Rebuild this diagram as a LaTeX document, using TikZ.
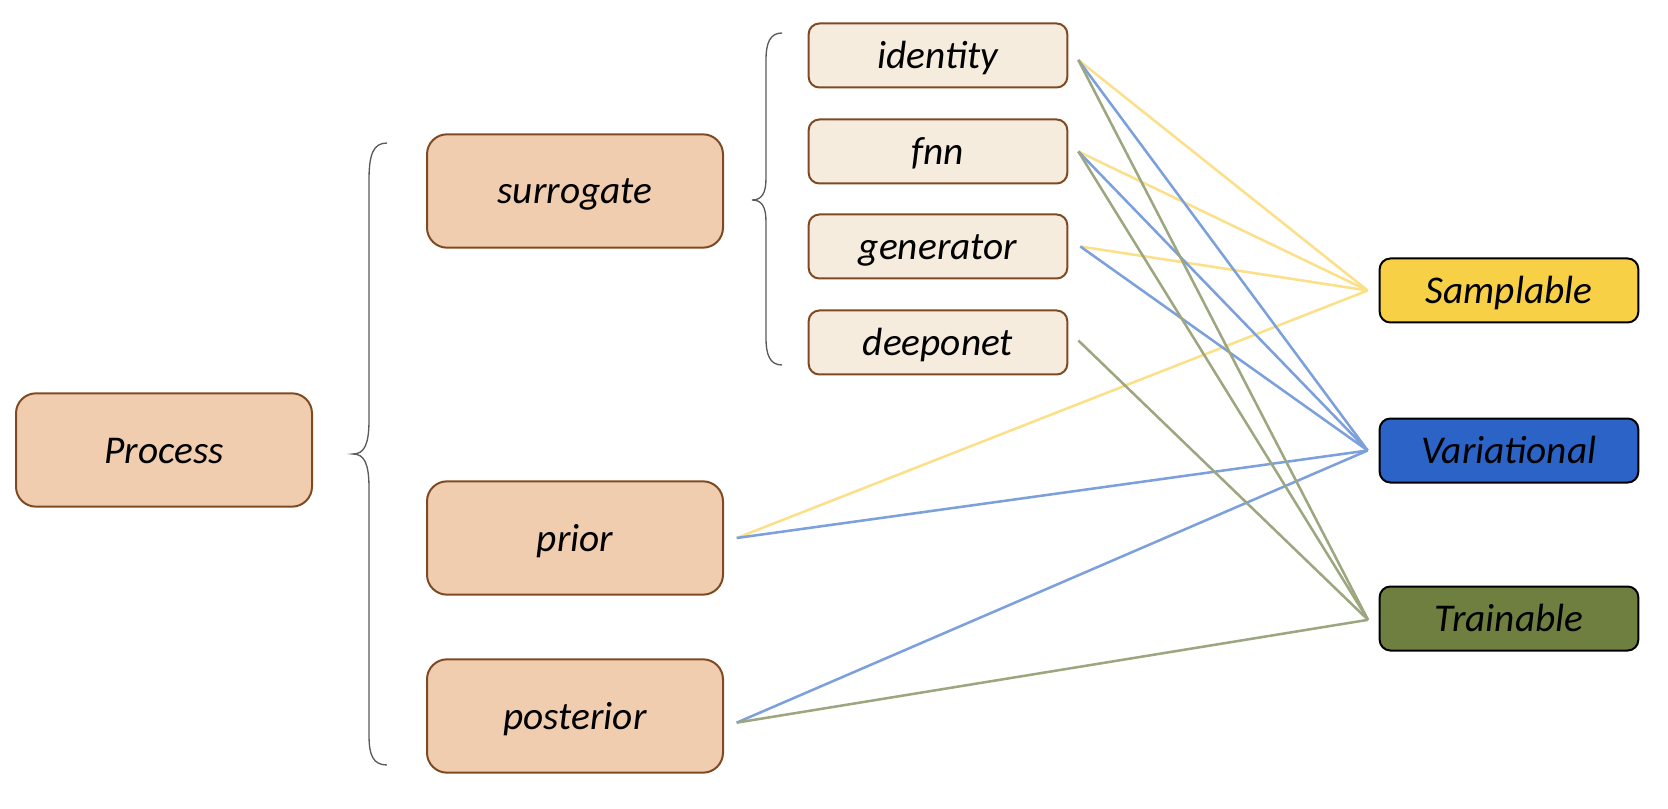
\documentclass[tikz,border=0pt]{standalone}
\usepackage{fontspec}
\setmainfont{Carlito}
\definecolor{peach}{HTML}{F0CDAF}
\definecolor{brownb}{HTML}{7F4A22}
\definecolor{cream}{HTML}{F5ECDE}
\definecolor{sampc}{HTML}{F7D046}
\definecolor{varc}{HTML}{2B63C6}
\definecolor{trainc}{HTML}{6E7F3F}
\definecolor{yline}{HTML}{FCE089}
\definecolor{bline}{HTML}{7BA0DB}
\definecolor{gline}{HTML}{9DA77F}
\definecolor{bracec}{HTML}{5A5A5A}
\tikzset{
  boxtext/.style={font=\fontsize{29.5}{34}\selectfont\itshape, text height=25pt, text depth=5.5pt},
  bigbox/.style={boxtext, draw=brownb, line width=1.5pt, fill=peach, rounded corners=15pt,
    minimum width=222pt, minimum height=85pt, inner sep=0pt},
  smallbox/.style={boxtext, draw=brownb, line width=1.5pt, fill=cream, rounded corners=8pt,
    minimum width=194pt, minimum height=48pt, inner sep=0pt},
  catbox/.style={boxtext, draw=black, line width=1.5pt, rounded corners=8pt,
    minimum width=194pt, minimum height=48pt, inner sep=0pt},
  yl/.style={draw=yline, line width=1.9pt},
  bl/.style={draw=bline, line width=1.9pt},
  gl/.style={draw=gline, line width=1.9pt},
  bracestyle/.style={draw=bracec, line width=1pt},
}
\begin{document}
\begin{tikzpicture}[x=0.75pt,y=-0.75pt]
\useasboundingbox (0,0) rectangle (1668,809);
% nodes
\node[bigbox] (proc) at (164,450) {Process};
\node[bigbox] (surr) at (575,191) {surrogate};
\node[bigbox] (prior) at (575,538) {prior};
\node[bigbox] (post) at (575,716) {posterior};
\node[smallbox] (id) at (938,55.5) {identity};
\node[smallbox] (fnn) at (938,151.5) {fnn};
\node[smallbox] (gen) at (938,246.5) {generator};
\node[smallbox] (deep) at (938,342.5) {deeponet};
\node[catbox, fill=sampc] (samp) at (1509,290.5) {Samplable};
\node[catbox, fill=varc] (var) at (1509,450.5) {Variational};
\node[catbox, fill=trainc] (train) at (1509,618.5) {Trainable};
% braces
\draw[bracestyle] (387,143) .. controls (373,143) and (369,155) .. (369,180)
  -- (369,420) .. controls (369,445) and (364,454) .. (353,454)
  .. controls (364,454) and (369,463) .. (369,488)
  -- (369,735) .. controls (369,755) and (373,765) .. (387,765);
\draw[bracestyle] (782,33) .. controls (770,33) and (766,43) .. (766,60)
  -- (766,178) .. controls (766,193) and (762,200) .. (752,200)
  .. controls (762,200) and (766,207) .. (766,222)
  -- (766,338) .. controls (766,355) and (770,365) .. (782,365);
% connectors
\draw[yl] ([xshift=7.5pt,yshift=-3.4pt]id.east) -- ([xshift=-8.25pt]samp.west);
\draw[yl] ([xshift=7.5pt]fnn.east) -- ([xshift=-8.25pt]samp.west);
\draw[yl] ([xshift=9pt]gen.east) -- ([xshift=-8.25pt]samp.west);
\draw[yl] ([xshift=9.5pt]prior.east) -- ([xshift=-8.25pt]samp.west);
\draw[bl] ([xshift=7.5pt,yshift=-3.4pt]id.east) -- ([xshift=-8.25pt]var.west);
\draw[bl] ([xshift=7.5pt]fnn.east) -- ([xshift=-8.25pt]var.west);
\draw[bl] ([xshift=9pt]gen.east) -- ([xshift=-8.25pt]var.west);
\draw[bl] ([xshift=9.5pt]prior.east) -- ([xshift=-8.25pt]var.west);
\draw[bl] ([xshift=9.5pt,yshift=-5pt]post.east) -- ([xshift=-8.25pt]var.west);
\draw[gl] ([xshift=7.5pt,yshift=-3.4pt]id.east) -- ([xshift=-8pt,yshift=-1pt]train.west);
\draw[gl] ([xshift=7.5pt]fnn.east) -- ([xshift=-8pt,yshift=-1pt]train.west);
\draw[gl] ([xshift=7.5pt,yshift=1.5pt]deep.east) -- ([xshift=-8pt,yshift=-1pt]train.west);
\draw[gl] ([xshift=9.5pt,yshift=-5pt]post.east) -- ([xshift=-8pt,yshift=-1pt]train.west);
\end{tikzpicture}
\end{document}
